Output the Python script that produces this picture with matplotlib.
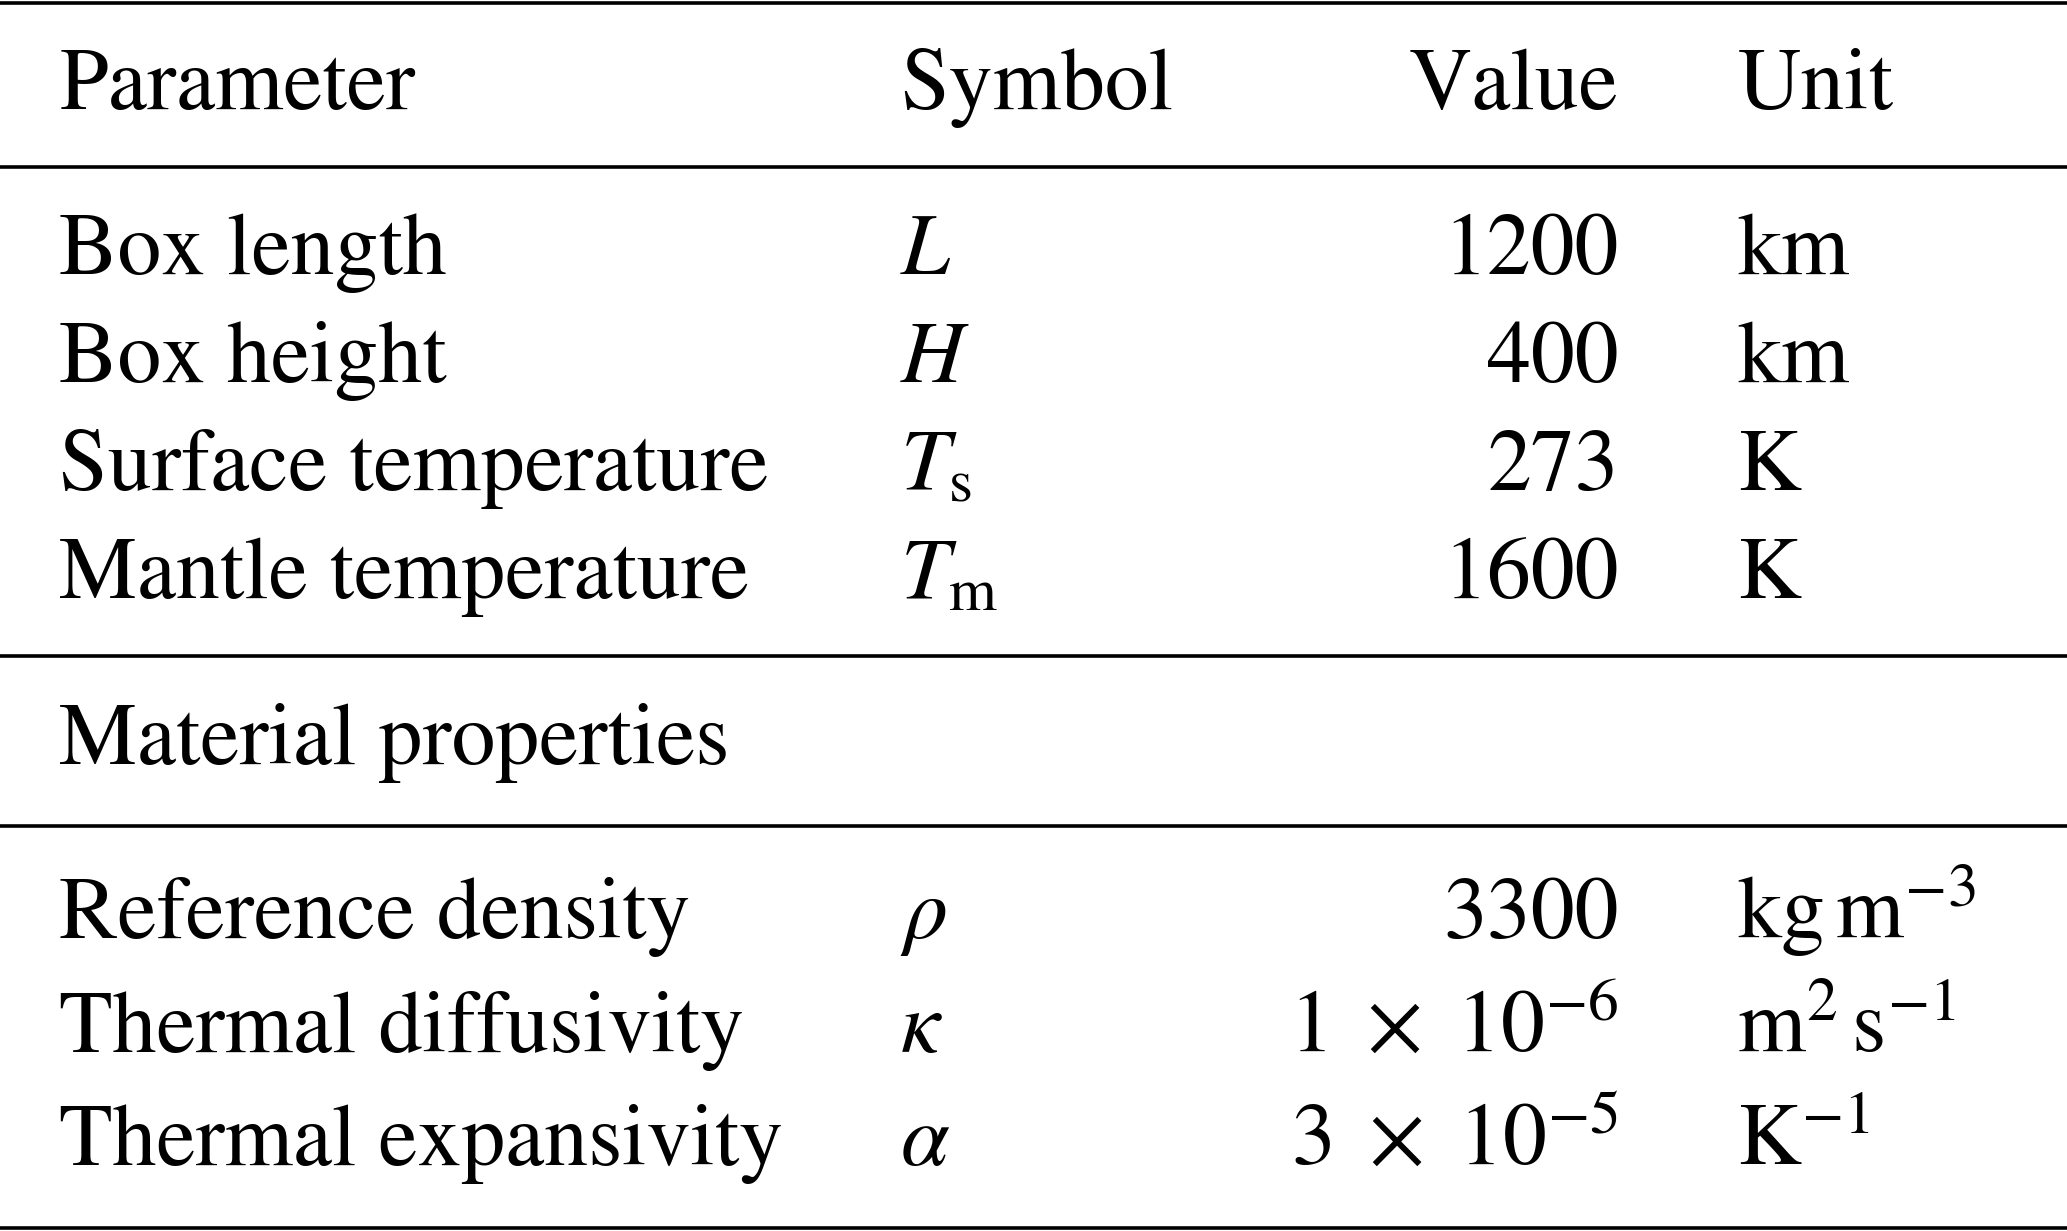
import matplotlib.pyplot as plt

plt.rcParams['font.family'] = ['STIXGeneral', 'Liberation Serif', 'DejaVu Serif']
plt.rcParams['mathtext.fontset'] = 'stix'

header = ["Parameter", "Symbol", "Value", "Unit"]

params = ["Box length", "Box height", "Surface temperature", "Mantle temperature"]
param_symbols = [r"$L$", r"$H$", r"$T_\mathrm{s}$", r"$T_\mathrm{m}$"]
param_values = ["1200", "400", "273", "1600"]
param_units = ["km", "km", "K", "K"]

section = "Material properties"
materials = ["Reference density", "Thermal diffusivity", "Thermal expansivity"]
material_symbols = [r"$\rho$", r"$\kappa$", r"$\alpha$"]
material_values = ["3300", r"$1\ \times\ 10^{-6}$", r"$3\ \times\ 10^{-5}$"]
material_units = [r"kg$\,$m$^{-3}$", r"m$^{2}\,$s$^{-1}$", r"K$^{-1}$"]

W, H = 1568.0, 934.0
col_x = [45 / W, 683 / W, 1228 / W, 1318 / W]
col_ha = ["left", "left", "right", "left"]
fs = 63.2

fig = plt.figure(figsize=(20.67, 12.31), dpi=100)


def put_row(cells, y_px):
    y = 1 - y_px / H
    for x, ha, txt in zip(col_x, col_ha, cells):
        fig.text(x, y, txt, ha=ha, va="baseline", fontsize=fs)


def hline(y_px, lw=2.6):
    y = 1 - y_px / H
    fig.add_artist(plt.Line2D([0, 1], [y, y], color="black", lw=lw,
                              transform=fig.transFigure))


hline(2.5)
put_row(header, 83)
hline(127)

for i in range(len(params)):
    put_row([params[i], param_symbols[i], param_values[i], param_units[i]],
            208 + 82 * i)

hline(498)
fig.text(col_x[0], 1 - 580 / H, section, ha="left", va="baseline", fontsize=fs)
hline(627)

for i in range(len(materials)):
    put_row([materials[i], material_symbols[i], material_values[i],
             material_units[i]], 712 + 86 * i)

hline(931.5)

fig.savefig("out.png", dpi=100, facecolor="white")
